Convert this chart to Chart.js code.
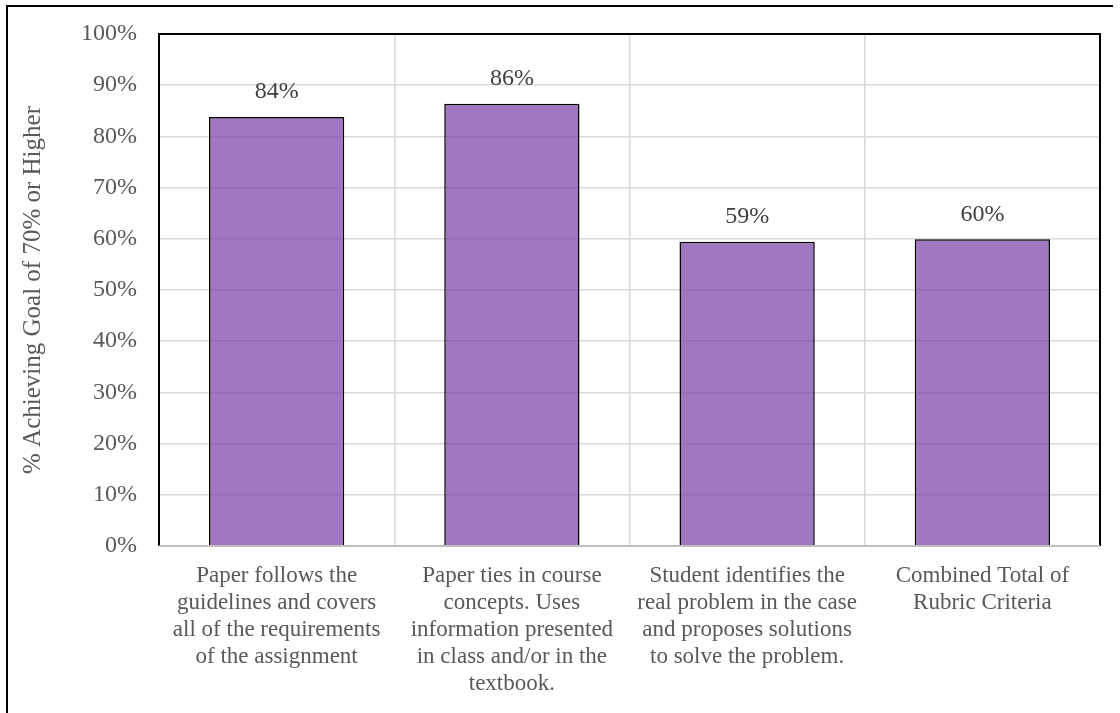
<!DOCTYPE html>
<html lang="en">
<head>
  <meta charset="UTF-8">
  <title>% Achieving Goal of 70% or Higher</title>
  <script src="https://cdn.jsdelivr.net/npm/chart.js"></script>
  <style>
    body {
      margin: 0;
      padding: 0;
      background: #fff;
    }

    .frame {
      position: absolute;
      left: 6px;
      top: 5px;
      width: 1107px;
      height: 708px;
      border-top: 2px solid #000;
      border-left: 2px solid #000;
      box-sizing: border-box;
    }

    .chart-wrapper {
      position: absolute;
      left: 0;
      top: 0;
      width: 1120px;
      height: 713px;
    }
  </style>
</head>
<body>
  <div class="frame"></div>
  <div class="chart-wrapper"><canvas id="rubricChart"></canvas></div>

  <script>
    const categories = [
      ["Paper follows the", "guidelines and covers", "all of the requirements", "of the assignment"],
      ["Paper ties in course", "concepts. Uses", "information presented", "in class and/or in the", "textbook."],
      ["Student identifies the", "real problem in the case", "and proposes solutions", "to solve the problem."],
      ["Combined Total of", "Rubric Criteria"]
    ];
    const percentAchieving = [83.8, 86.4, 59.4, 59.9];
    const yTicks = [0, 10, 20, 30, 40, 50, 60, 70, 80, 90, 100];

    const serif = "'Liberation Serif', 'DejaVu Serif', serif";

    // value labels above the bars and the plot frame
    const barLabels = {
      id: 'barLabels',
      afterDatasetsDraw(chart) {
        const ctx = chart.ctx;
        const meta = chart.getDatasetMeta(0);
        ctx.save();
        ctx.font = "24px " + serif;
        ctx.fillStyle = "#404040";
        ctx.textAlign = "center";
        ctx.textBaseline = "middle";
        meta.data.forEach((bar, i) => {
          ctx.fillText(Math.round(percentAchieving[i]) + "%", bar.x, bar.y - 25);
        });
        ctx.restore();
      },
      afterDraw(chart) {
        const a = chart.chartArea;
        const ctx = chart.ctx;
        ctx.save();
        ctx.lineWidth = 2;
        ctx.strokeStyle = "#000";
        ctx.beginPath();
        ctx.moveTo(a.left, a.bottom);
        ctx.lineTo(a.left, a.top);
        ctx.lineTo(a.right, a.top);
        ctx.lineTo(a.right, a.bottom);
        ctx.stroke();
        ctx.strokeStyle = "#BFBFBF";
        ctx.beginPath();
        ctx.moveTo(a.left, a.bottom);
        ctx.lineTo(a.right, a.bottom);
        ctx.stroke();
        ctx.restore();
      }
    };

    const ctx = document.getElementById("rubricChart").getContext('2d');
    new Chart(ctx, {
      type: 'bar',
      data: {
        labels: categories,
        datasets: [{
          data: percentAchieving,
          backgroundColor: 'rgba(119, 62, 165, 0.7)',
          borderColor: '#000',
          borderWidth: 1.5,
          borderSkipped: 'bottom',
          categoryPercentage: 1,
          barPercentage: 0.575
        }]
      },
      options: {
        responsive: true,
        maintainAspectRatio: false,
        animation: false,
        layout: { padding: { left: 0, top: 34, right: 20, bottom: 0 } },
        scales: {
          x: {
            grid: { color: '#D9D9D9', lineWidth: 1.5, offset: true, drawTicks: false },
            border: { display: false },
            ticks: {
              color: '#595959',
              font: { family: serif, size: 23, lineHeight: '27px' },
              padding: 16,
              maxRotation: 0,
              autoSkip: false
            },
            afterFit(scale) { scale.height = 713 - 546; }
          },
          y: {
            min: 0,
            max: 100,
            afterBuildTicks(scale) { scale.ticks = yTicks.map(v => ({ value: v })); },
            grid: { color: '#D9D9D9', lineWidth: 1.5, drawTicks: false },
            border: { display: false },
            ticks: {
              color: '#595959',
              font: { family: serif, size: 24 },
              padding: 22,
              callback: v => v + '%'
            },
            title: {
              display: true,
              text: '% Achieving Goal of 70% or Higher',
              color: '#595959',
              font: { family: serif, size: 25 },
              padding: { top: 18, bottom: 0 }
            },
            afterFit(scale) {
              scale.width = 159;
              scale.paddingTop = 0;
              scale.paddingBottom = 0;
            }
          }
        },
        plugins: {
          legend: { display: false },
          tooltip: { enabled: false }
        }
      },
      plugins: [barLabels]
    });
  </script>
</body>
</html>
